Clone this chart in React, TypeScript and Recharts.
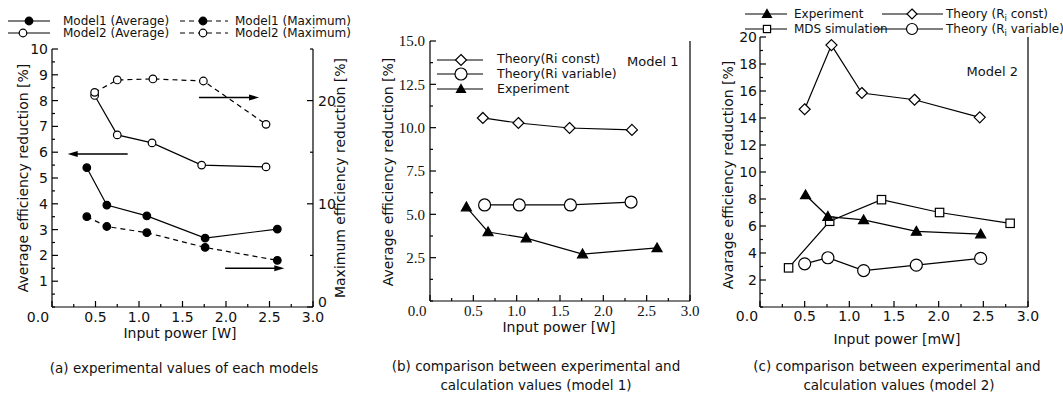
import { LineChart, Line, XAxis, YAxis, ReferenceLine } from "recharts";

const SANS = "DejaVu Sans, sans-serif";
const SERIF = "Liberation Serif, serif";

// (a) experimental values of each models
const m1AvgPower = [0.4, 0.63, 1.09, 1.76, 2.59];
const m1AvgReduction = [5.4, 3.95, 3.53, 2.67, 3.02];
const m2AvgPower = [0.49, 0.75, 1.15, 1.72, 2.46];
const m2AvgReduction = [8.2, 6.67, 6.36, 5.5, 5.43];
const m1MaxPower = [0.4, 0.63, 1.09, 1.76, 2.59];
const m1MaxReduction = [8.75, 7.8, 7.2, 5.77, 4.52];
const m2MaxPower = [0.49, 0.75, 1.16, 1.74, 2.46];
const m2MaxReduction = [20.8, 22.0, 22.1, 21.9, 17.7];

// (b) model 1
const b1ConstPower = [0.61, 1.02, 1.61, 2.33];
const b1ConstReduction = [10.56, 10.27, 9.98, 9.87];
const b1VarPower = [0.63, 1.03, 1.62, 2.32];
const b1VarReduction = [5.54, 5.54, 5.54, 5.71];
const b1ExpPower = [0.42, 0.67, 1.11, 1.76, 2.62];
const b1ExpReduction = [5.42, 3.98, 3.63, 2.71, 3.06];

// (c) model 2
const c2ExpPower = [0.51, 0.76, 1.16, 1.75, 2.47];
const c2ExpReduction = [8.3, 6.7, 6.45, 5.6, 5.4];
const c2MdsPower = [0.32, 0.78, 1.36, 2.01, 2.8];
const c2MdsReduction = [2.9, 6.35, 7.95, 7.0, 6.2];
const c2ConstPower = [0.5, 0.8, 1.14, 1.73, 2.46];
const c2ConstReduction = [14.65, 19.4, 15.85, 15.35, 14.05];
const c2VarPower = [0.5, 0.76, 1.16, 1.75, 2.47];
const c2VarReduction = [3.2, 3.65, 2.7, 3.1, 3.6];

// ticks
const powerTicks = [0, 0.25, 0.5, 0.75, 1, 1.25, 1.5, 1.75, 2, 2.25, 2.5, 2.75, 3];
const powerLabels = [0, 0.5, 1, 1.5, 2, 2.5, 3];
const aLeftTicks = [0, 0.5, 1, 1.5, 2, 2.5, 3, 3.5, 4, 4.5, 5, 5.5, 6, 6.5, 7, 7.5, 8, 8.5, 9, 9.5, 10];
const aLeftLabels = [1, 2, 3, 4, 5, 6, 7, 8, 9, 10];
const aRightTicks = [0, 5, 10, 15, 20, 25];
const aRightLabels = [0, 10, 20];
const bTicks = [0, 1.25, 2.5, 3.75, 5, 6.25, 7.5, 8.75, 10, 11.25, 12.5, 13.75, 15];
const bLabels = [2.5, 5, 7.5, 10, 12.5, 15];
const cTicks = [0, 1, 2, 3, 4, 5, 6, 7, 8, 9, 10, 11, 12, 13, 14, 15, 16, 17, 18, 19, 20];
const cLabels = [2, 4, 6, 8, 10, 12, 14, 16, 18, 20];

const legendA = ["Model1 (Average)", "Model2 (Average)", "Model1 (Maximum)", "Model2 (Maximum)"];
const legendB = ["Theory(Ri const)", "Theory(Ri variable)", "Experiment"];
const legendC = ["Experiment", "MDS simulation"];

const zip = (xs: number[], ys: number[]) => xs.map((x, i) => ({ x, y: ys[i] }));
const has = (list: number[], v: number) => list.some((t) => Math.abs(t - v) < 1e-6);

type Kind = "dot" | "ring" | "diamond" | "tri" | "square";

function Marker({ kind, cx, cy, s }: { kind: Kind; cx: number; cy: number; s: number }) {
  const st = { stroke: "#000", strokeWidth: 1.2 };
  if (kind === "dot") return <circle cx={cx} cy={cy} r={s} fill="#000" {...st} />;
  if (kind === "ring") return <circle cx={cx} cy={cy} r={s} fill="#fff" {...st} />;
  if (kind === "diamond")
    return <path d={`M${cx},${cy - s}L${cx + s},${cy}L${cx},${cy + s}L${cx - s},${cy}Z`} fill="#fff" {...st} />;
  if (kind === "tri")
    return <path d={`M${cx},${cy - s}L${cx + s},${cy + s * 0.75}L${cx - s},${cy + s * 0.75}Z`} fill="#000" {...st} />;
  return <rect x={cx - s} y={cy - s} width={s * 2} height={s * 2} fill="#fff" {...st} />;
}

const dotOf = (kind: Kind, s: number) => (p: any) =>
  <Marker key={`${kind}-${p.index}`} kind={kind} cx={p.cx} cy={p.cy} s={s} />;

type TickOpts = {
  majors?: number[];
  labels?: number[];
  fmt?: (v: number) => string;
  font?: string;
  size?: number;
  off?: number;
  firstShift?: number;
  zeroDy?: number;
};

function tickOf(side: "bottom" | "top" | "left" | "right", o: TickOpts = {}) {
  return (p: any) => {
    const v = p.payload.value;
    const len = !o.majors || has(o.majors, v) ? 6 : 3;
    const label = o.labels && has(o.labels, v) ? (o.fmt ? o.fmt(v) : String(v)) : null;
    const { x, y } = p;
    const tp = { fontSize: o.size ?? 14, fontFamily: o.font ?? SANS, fill: "#111" };
    if (side === "bottom")
      return (
        <g>
          <line x1={x} y1={y} x2={x} y2={y - len} stroke="#000" strokeWidth={1.2} />
          {label && (
            <text x={x + (v === 0 ? o.firstShift ?? 0 : 0)} y={y + (o.off ?? 10)} dy="0.35em" textAnchor="middle" {...tp}>
              {label}
            </text>
          )}
        </g>
      );
    if (side === "top") return <line x1={x} y1={y} x2={x} y2={y + len} stroke="#000" strokeWidth={1.2} />;
    if (side === "left")
      return (
        <g>
          <line x1={x} y1={y} x2={x + len} y2={y} stroke="#000" strokeWidth={1.2} />
          {label && (
            <text x={x - (o.off ?? 4)} y={y} dy="0.35em" textAnchor="end" {...tp}>
              {label}
            </text>
          )}
        </g>
      );
    return (
      <g>
        <line x1={x} y1={y} x2={x - len} y2={y} stroke="#000" strokeWidth={1.2} />
        {label && (
          <text x={x + (o.off ?? 5)} y={y + (v === 0 ? o.zeroDy ?? 0 : 0)} dy="0.35em" textAnchor="start" {...tp}>
            {label}
          </text>
        )}
      </g>
    );
  };
}

const axisLine = { stroke: "#000", strokeWidth: 1.2 };

function Arrow(p: any) {
  const { x1, y1, x2, y2 } = p;
  const dir = x2 > x1 ? 1 : -1;
  return (
    <g>
      <line x1={x1} y1={y1} x2={x2 - dir * 8} y2={y2} stroke="#000" strokeWidth={1.4} />
      <path d={`M${x2},${y2}L${x2 - dir * 10},${y2 - 3}L${x2 - dir * 10},${y2 + 3}Z`} fill="#000" />
    </g>
  );
}

function topAxis() {
  return (
    <XAxis xAxisId="t" orientation="top" type="number" dataKey="x" domain={[0, 3]} ticks={powerTicks}
      interval={0} height={0} tickSize={0} tickMargin={0} tickLine={false} axisLine={axisLine}
      tick={tickOf("top", { majors: powerLabels })} />
  );
}

function PanelA() {
  return (
    <LineChart width={360} height={395} margin={{ top: 49, right: 0, bottom: 0, left: 0 }}>
      {topAxis()}
      <XAxis xAxisId="x" type="number" dataKey="x" domain={[0, 3]} ticks={powerTicks} interval={0} height={88}
        tickSize={0} tickMargin={0} tickLine={false} axisLine={axisLine}
        tick={tickOf("bottom", { majors: powerLabels, labels: powerLabels, fmt: (v) => v.toFixed(1), off: 10, firstShift: -14 })} />
      <YAxis yAxisId="l" type="number" domain={[0, 10]} ticks={aLeftTicks} interval={0} width={52}
        tickSize={0} tickMargin={0} tickLine={false} axisLine={axisLine}
        tick={tickOf("left", { majors: aLeftLabels, labels: aLeftLabels, off: 4 })} />
      <YAxis yAxisId="r" orientation="right" type="number" domain={[0, 25]} ticks={aRightTicks} interval={0} width={47}
        tickSize={0} tickMargin={0} tickLine={false} axisLine={axisLine}
        tick={tickOf("right", { majors: aRightLabels, labels: aRightLabels, off: 5, zeroDy: -5 })} />
      <Line xAxisId="x" yAxisId="l" data={zip(m1AvgPower, m1AvgReduction)} dataKey="y" stroke="#000" strokeWidth={1.2}
        dot={dotOf("dot", 3.8)} activeDot={false} isAnimationActive={false} />
      <Line xAxisId="x" yAxisId="l" data={zip(m2AvgPower, m2AvgReduction)} dataKey="y" stroke="#000" strokeWidth={1.2}
        dot={dotOf("ring", 3.8)} activeDot={false} isAnimationActive={false} />
      <Line xAxisId="x" yAxisId="r" data={zip(m1MaxPower, m1MaxReduction)} dataKey="y" stroke="#000" strokeWidth={1.2}
        strokeDasharray="5 4" dot={dotOf("dot", 3.8)} activeDot={false} isAnimationActive={false} />
      <Line xAxisId="x" yAxisId="r" data={zip(m2MaxPower, m2MaxReduction)} dataKey="y" stroke="#000" strokeWidth={1.2}
        strokeDasharray="5 4" dot={dotOf("ring", 3.8)} activeDot={false} isAnimationActive={false} />
      <ReferenceLine xAxisId="x" yAxisId="l" segment={[{ x: 0.87, y: 5.93 }, { x: 0.18, y: 5.93 }]} shape={Arrow} />
      <ReferenceLine xAxisId="x" yAxisId="r" segment={[{ x: 1.69, y: 20.3 }, { x: 2.38, y: 20.3 }]} shape={Arrow} />
      <ReferenceLine xAxisId="x" yAxisId="r" segment={[{ x: 1.99, y: 3.75 }, { x: 2.67, y: 3.75 }]} shape={Arrow} />
    </LineChart>
  );
}

function PanelB() {
  return (
    <LineChart width={360} height={395} margin={{ top: 41, right: 0, bottom: 0, left: 0 }}>
      {topAxis()}
      <XAxis xAxisId="x" type="number" dataKey="x" domain={[0, 3]} ticks={powerTicks} interval={0} height={94}
        tickSize={0} tickMargin={0} tickLine={false} axisLine={axisLine}
        tick={tickOf("bottom", { majors: powerLabels, labels: powerLabels, fmt: (v) => v.toFixed(1), off: 10, firstShift: -13, font: SERIF, size: 15 })} />
      <YAxis yAxisId="l" type="number" domain={[0, 15]} ticks={bTicks} interval={0} width={75}
        tickSize={0} tickMargin={0} tickLine={false} axisLine={axisLine}
        tick={tickOf("left", { majors: bLabels, labels: bLabels, fmt: (v) => v.toFixed(1), off: 5, font: SERIF, size: 15 })} />
      <YAxis yAxisId="r" orientation="right" type="number" domain={[0, 15]} ticks={bTicks} interval={0} width={25}
        tickSize={0} tickMargin={0} tickLine={false} axisLine={axisLine}
        tick={tickOf("right", { majors: bLabels })} />
      <Line xAxisId="x" yAxisId="l" data={zip(b1ConstPower, b1ConstReduction)} dataKey="y" stroke="#000" strokeWidth={1.2}
        dot={dotOf("diamond", 5.5)} activeDot={false} isAnimationActive={false} />
      <Line xAxisId="x" yAxisId="l" data={zip(b1VarPower, b1VarReduction)} dataKey="y" stroke="#000" strokeWidth={1.2}
        dot={dotOf("ring", 6)} activeDot={false} isAnimationActive={false} />
      <Line xAxisId="x" yAxisId="l" data={zip(b1ExpPower, b1ExpReduction)} dataKey="y" stroke="#000" strokeWidth={1.2}
        dot={dotOf("tri", 5)} activeDot={false} isAnimationActive={false} />
    </LineChart>
  );
}

function PanelC() {
  return (
    <LineChart width={363} height={395} margin={{ top: 37, right: 0, bottom: 0, left: 0 }}>
      {topAxis()}
      <XAxis xAxisId="x" type="number" dataKey="x" domain={[0, 3]} ticks={powerTicks} interval={0} height={88}
        tickSize={0} tickMargin={0} tickLine={false} axisLine={axisLine}
        tick={tickOf("bottom", { majors: powerLabels, labels: powerLabels, fmt: (v) => v.toFixed(1), off: 9, firstShift: -13 })} />
      <YAxis yAxisId="l" type="number" domain={[0, 20]} ticks={cTicks} interval={0} width={60}
        tickSize={0} tickMargin={0} tickLine={false} axisLine={axisLine}
        tick={tickOf("left", { majors: cLabels, labels: cLabels, off: 3 })} />
      <YAxis yAxisId="r" orientation="right" type="number" domain={[0, 20]} ticks={cTicks} interval={0} width={35}
        tickSize={0} tickMargin={0} tickLine={false} axisLine={axisLine}
        tick={tickOf("right", { majors: cLabels })} />
      <Line xAxisId="x" yAxisId="l" data={zip(c2ConstPower, c2ConstReduction)} dataKey="y" stroke="#000" strokeWidth={1.2}
        dot={dotOf("diamond", 5.5)} activeDot={false} isAnimationActive={false} />
      <Line xAxisId="x" yAxisId="l" data={zip(c2VarPower, c2VarReduction)} dataKey="y" stroke="#000" strokeWidth={1.2}
        dot={dotOf("ring", 6)} activeDot={false} isAnimationActive={false} />
      <Line xAxisId="x" yAxisId="l" data={zip(c2MdsPower, c2MdsReduction)} dataKey="y" stroke="#000" strokeWidth={1.2}
        dot={dotOf("square", 4.2)} activeDot={false} isAnimationActive={false} />
      <Line xAxisId="x" yAxisId="l" data={zip(c2ExpPower, c2ExpReduction)} dataKey="y" stroke="#000" strokeWidth={1.2}
        dot={dotOf("tri", 5)} activeDot={false} isAnimationActive={false} />
    </LineChart>
  );
}

function T({ x, y, children, size = 14, anchor = "start", font = SANS, rot = false }: any) {
  return (
    <text x={x} y={y} dy="0.35em" fontSize={size} fontFamily={font} textAnchor={anchor} fill="#111"
      transform={rot ? `rotate(-90 ${x} ${y})` : undefined}>
      {children}
    </text>
  );
}

function Key({ x1, x2, mx, y, kind, s, dashed }: { x1: number; x2: number; mx: number; y: number; kind: Kind; s: number; dashed?: boolean }) {
  return (
    <g>
      <line x1={x1} y1={y} x2={x2} y2={y} stroke="#000" strokeWidth={1.2} strokeDasharray={dashed ? "5 4" : undefined} />
      <Marker kind={kind} cx={mx} cy={y} s={s} />
    </g>
  );
}

function Overlay() {
  return (
    <svg width={1063} height={395} style={{ position: "absolute", left: 0, top: 0, pointerEvents: "none" }}>
      {/* (a) */}
      <Key x1={8} x2={50} mx={29} y={21} kind="dot" s={3.8} />
      <T x={63} y={21} size={12}>{legendA[0]}</T>
      <Key x1={8} x2={50} mx={23} y={33} kind="ring" s={3.8} />
      <T x={63} y={33} size={12}>{legendA[1]}</T>
      <Key x1={180} x2={228} mx={203} y={21} kind="dot" s={3.8} dashed />
      <T x={235} y={21} size={12}>{legendA[2]}</T>
      <Key x1={180} x2={228} mx={203} y={33} kind="ring" s={3.8} dashed />
      <T x={235} y={33} size={12}>{legendA[3]}</T>
      <T x={23} y={178} anchor="middle" rot>Average efficiency reduction [%]</T>
      <T x={340} y={178} anchor="middle" rot>Maximum efficiency reduction [%]</T>
      <T x={180} y={333} anchor="middle">Input power [W]</T>
      <T x={184} y={368} anchor="middle" size={13.5}>(a) experimental values of each models</T>

      {/* (b) */}
      <Key x1={437} x2={483} mx={461} y={60} kind="diamond" s={5.5} />
      <T x={497} y={59} size={12.5}>{legendB[0]}</T>
      <Key x1={437} x2={483} mx={461} y={74} kind="ring" s={6} />
      <T x={497} y={74} size={12.5}>{legendB[1]}</T>
      <Key x1={437} x2={483} mx={461} y={89} kind="tri" s={4.5} />
      <T x={497} y={89} size={12.5}>{legendB[2]}</T>
      <T x={627} y={61} size={13}>Model 1</T>
      <T x={388} y={172} anchor="middle" rot>Average efficiency reduction [%]</T>
      <T x={559} y={327} anchor="middle">Input power [W]</T>
      <T x={536} y={366} anchor="middle" size={13.5}>(b) comparison between experimental and</T>
      <T x={536} y={385} anchor="middle" size={13.5}>calculation values (model 1)</T>

      {/* (c) */}
      <Key x1={745} x2={787} mx={767} y={14} kind="tri" s={4.5} />
      <T x={794} y={14} size={12}>{legendC[0]}</T>
      <Key x1={745} x2={787} mx={767} y={29} kind="square" s={3.6} />
      <T x={794} y={29} size={12}>{legendC[1]}</T>
      <Key x1={882} x2={943} mx={912} y={14} kind="diamond" s={5} />
      <text x={946} y={14} dy="0.35em" fontSize={12} fontFamily={SANS} fill="#111">
        Theory (R<tspan fontSize={8.5} dy={3}>i</tspan><tspan dy={-3}> const)</tspan>
      </text>
      <Key x1={875} x2={943} mx={912} y={29} kind="ring" s={5.5} />
      <text x={946} y={29} dy="0.35em" fontSize={12} fontFamily={SANS} fill="#111">
        Theory (R<tspan fontSize={8.5} dy={3}>i</tspan><tspan dy={-3}> variable)</tspan>
      </text>
      <T x={1018} y={71} size={13} anchor="end">Model 2</T>
      <T x={728} y={175} anchor="middle" rot>Avarage efficiency reduction [%]</T>
      <T x={897} y={339} anchor="middle">Input power [mW]</T>
      <T x={897} y={366} anchor="middle" size={13.5}>(c) comparison between experimental and</T>
      <T x={899} y={385} anchor="middle" size={13.5}>calculation values (model 2)</T>
    </svg>
  );
}

export default function App() {
  return (
    <div style={{ position: "absolute", left: 0, top: 0, width: 1063, height: 395, background: "#fff", overflow: "hidden" }}>
      <div style={{ position: "absolute", left: 0, top: 0 }}>
        <PanelA />
      </div>
      <div style={{ position: "absolute", left: 355, top: 0 }}>
        <PanelB />
      </div>
      <div style={{ position: "absolute", left: 700, top: 0 }}>
        <PanelC />
      </div>
      <Overlay />
    </div>
  );
}
